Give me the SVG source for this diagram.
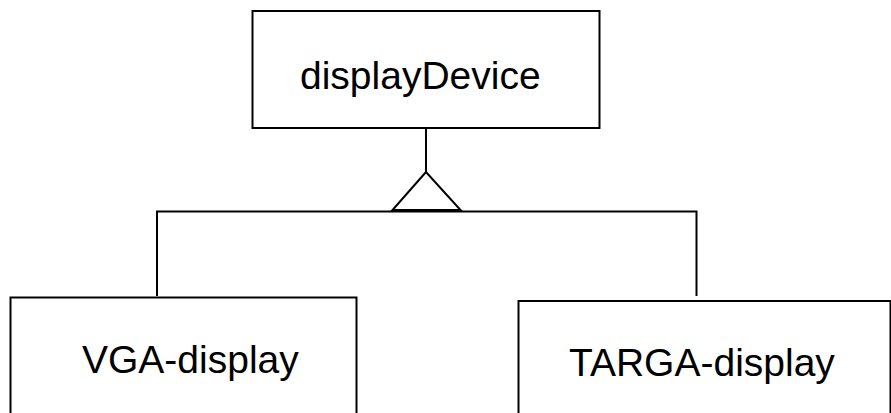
<svg xmlns="http://www.w3.org/2000/svg" width="891" height="413" viewBox="0 0 891 413">
<style>
.box{fill:#fff;stroke:#000;stroke-width:2}
.lbl{font-family:"Liberation Sans",Arial,sans-serif;font-size:39px;fill:#000}
.ln{fill:none;stroke:#000;stroke-width:2}
</style>
<rect width="891" height="413" fill="#fff"/>
<g id="connectors">
<line class="ln" x1="426" y1="128" x2="426" y2="172"/>
<polygon class="ln" points="426,172 392.5,210 460.5,210"/>
<polyline class="ln" points="157,296 157,211.5 696.5,211.5 696.5,296"/>
</g>
<g id="displayDevice">
<rect class="box" x="252.5" y="11" width="347" height="117"/>
<text class="lbl" x="300" y="89">displayDevice</text>
</g>
<g id="VGA-display">
<rect class="box" x="10.5" y="297.5" width="346" height="130"/>
<text class="lbl" x="82" y="373">VGA-display</text>
</g>
<g id="TARGA-display">
<rect class="box" x="518.5" y="301" width="372" height="130"/>
<text class="lbl" x="569" y="376">TARGA-display</text>
</g>
</svg>
